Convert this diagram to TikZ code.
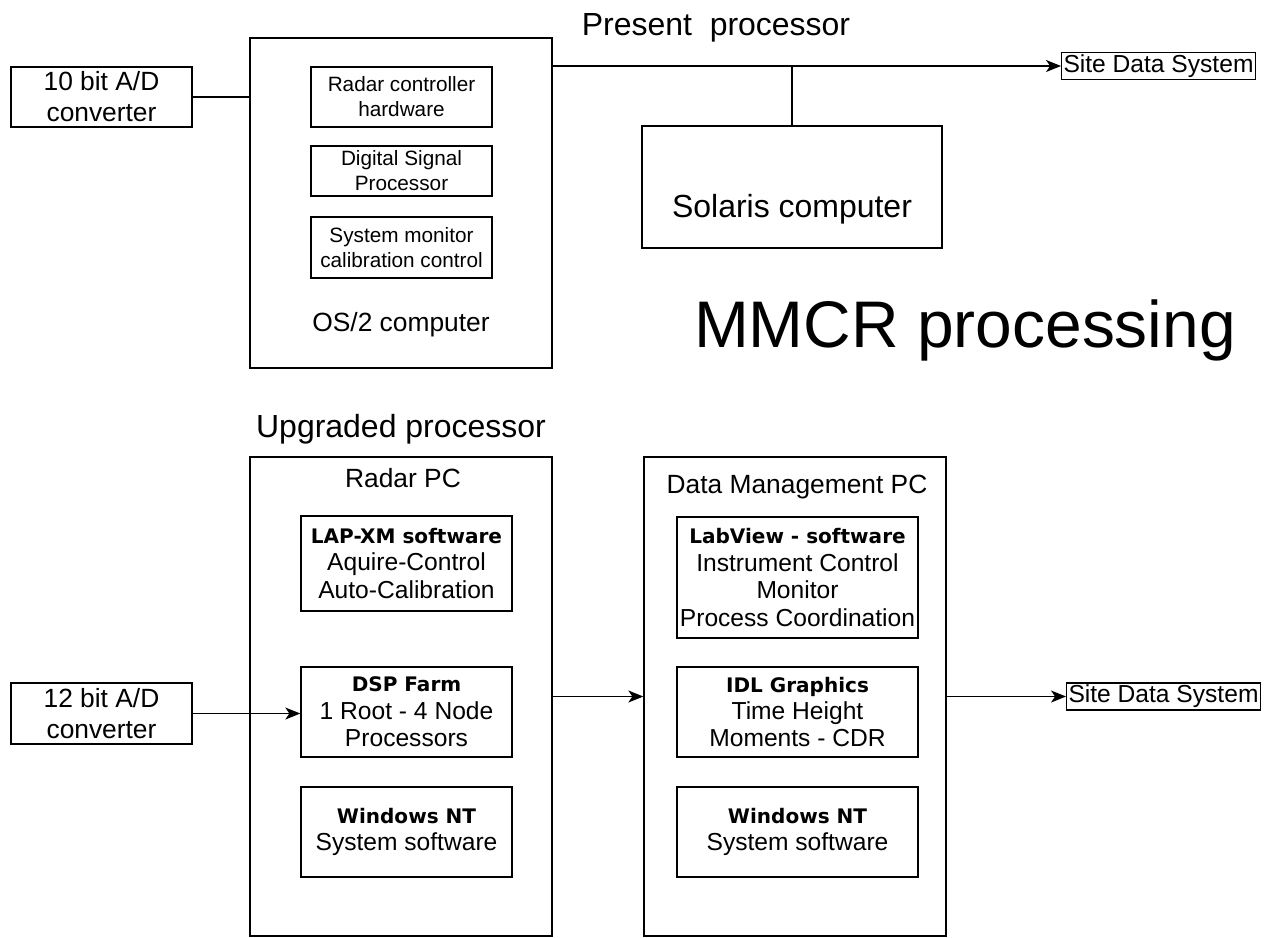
\documentclass[tikz,border=0pt]{standalone}
\usepackage{fontspec}
\setmainfont{Liberation Sans}
\newfontfamily\hdfont{DejaVu Sans}
\usetikzlibrary{arrows.meta,positioning,calc}

\newcommand\hd[1]{{\hdfont\bfseries\fontsize{11.4}{15.6}\selectfont #1}}

\begin{document}
\begin{tikzpicture}[x=0.02cm, y=-0.02cm,
    adbox/.style={rectangle, draw, line width=0.8pt, minimum width=3.62cm, align=center, inner sep=0pt, font=\fontsize{15}{17.6}\selectfont},
    hwbox/.style={rectangle, draw, line width=0.8pt, minimum width=3.62cm, align=center, inner sep=0pt, font=\fontsize{11.8}{14.2}\selectfont},
    pcbox/.style={rectangle, draw, line width=0.8pt, minimum width=6.04cm},
    swbox/.style={rectangle, draw, line width=0.8pt, align=center, inner sep=0pt, font=\fontsize{14}{15.6}\selectfont},
    sitebox/.style={rectangle, draw, line width=0.8pt, inner xsep=1pt, inner ysep=0pt, minimum height=0.54cm, font=\fontsize{14}{16}\selectfont},
    title/.style={anchor=base, font=\fontsize{18.2}{21}\selectfont},
    pctitle/.style={anchor=base, font=\fontsize{15}{18}\selectfont},
    link/.style={line width=0.8pt},
    arrow/.style={line width=0.8pt, -{Stealth[length=0.3cm, width=0.24cm, inset=0.08cm]}}]

    \useasboundingbox (0,0) rectangle (1264,937);

    % present processor
    \node[title] (present) at (716,35) {Present\ \ processor};
    \node[adbox, minimum height=1.2cm] (ad10) at (101.5,97) {10 bit A/D\\converter};
    \node[pcbox, minimum height=6.6cm] (os2) at (401,203) {};
    \node[hwbox, minimum height=1.2cm] (radarhw) at (401.5,97) {Radar controller\\hardware};
    \node[hwbox, minimum height=1.0cm] (dsp) at (401.5,171) {Digital Signal\\Processor};
    \node[hwbox, minimum height=1.22cm] (sysmon) at (401.5,247.5) {System monitor\\calibration control};
    \node[pctitle] (os2txt) at (401,331) {OS/2 computer};
    \node[rectangle, draw, line width=0.8pt, minimum width=6cm, minimum height=2.44cm] (solaris) at (792,187) {};
    \node[title] (solaristxt) at (792,217) {Solaris computer};
    \node[sitebox] (site1) at (1158.5,66) {Site Data System};

    \node[anchor=base, font=\fontsize{37.5}{45}\selectfont] (mmcr) at (965,347) {MMCR processing};

    % upgraded processor
    \node[title] (upgraded) at (401,437) {Upgraded processor};
    \node[adbox, minimum height=1.22cm] (ad12) at (101.5,713.5) {12 bit A/D\\converter};
    \node[pcbox, minimum height=9.58cm] (radarpc) at (401,696.5) {};
    \node[pctitle] (radarpctxt) at (403,487) {Radar PC};
    \node[swbox, minimum width=4.22cm, minimum height=1.9cm] (lapxm) at (406.5,563.5) {\hd{LAP-XM software}\\Aquire-Control\\Auto-Calibration};
    \node[swbox, minimum width=4.22cm, minimum height=1.8cm] (dspfarm) at (406.5,712) {\hd{DSP Farm}\\1 Root - 4 Node\\Processors};
    \node[swbox, minimum width=4.22cm, minimum height=1.8cm] (winnt1) at (406.5,832) {\hd{Windows NT}\\System software};

    \node[pcbox, minimum height=9.58cm] (dmpc) at (795,696.5) {};
    \node[pctitle] (dmpctxt) at (797,493) {Data Management PC};
    \node[swbox, minimum width=4.82cm, minimum height=2.42cm] (labview) at (797.5,577.5) {\hd{LabView - software}\\Instrument Control\\Monitor\\Process Coordination};
    \node[swbox, minimum width=4.82cm, minimum height=1.8cm] (idl) at (797.5,712) {\hd{IDL Graphics}\\Time Height\\Moments - CDR};
    \node[swbox, minimum width=4.82cm, minimum height=1.8cm] (winnt2) at (797.5,832) {\hd{Windows NT}\\System software};
    \node[sitebox] (site2) at (1163.5,696.5) {Site Data System};

    \draw[link] (ad10.east) -- (ad10.east -| os2.west);
    \draw[arrow] (os2.east |- site1.west) -- (site1.west);
    \draw[link] (solaris.north) -- (solaris.north |- site1.west);
    \draw[arrow] (ad12.east) -- (ad12.east -| dspfarm.west);
    \draw[arrow] (radarpc.east) -- (dmpc.west);
    \draw[arrow] (dmpc.east) -- (site2.west);

\end{tikzpicture}
\end{document}
